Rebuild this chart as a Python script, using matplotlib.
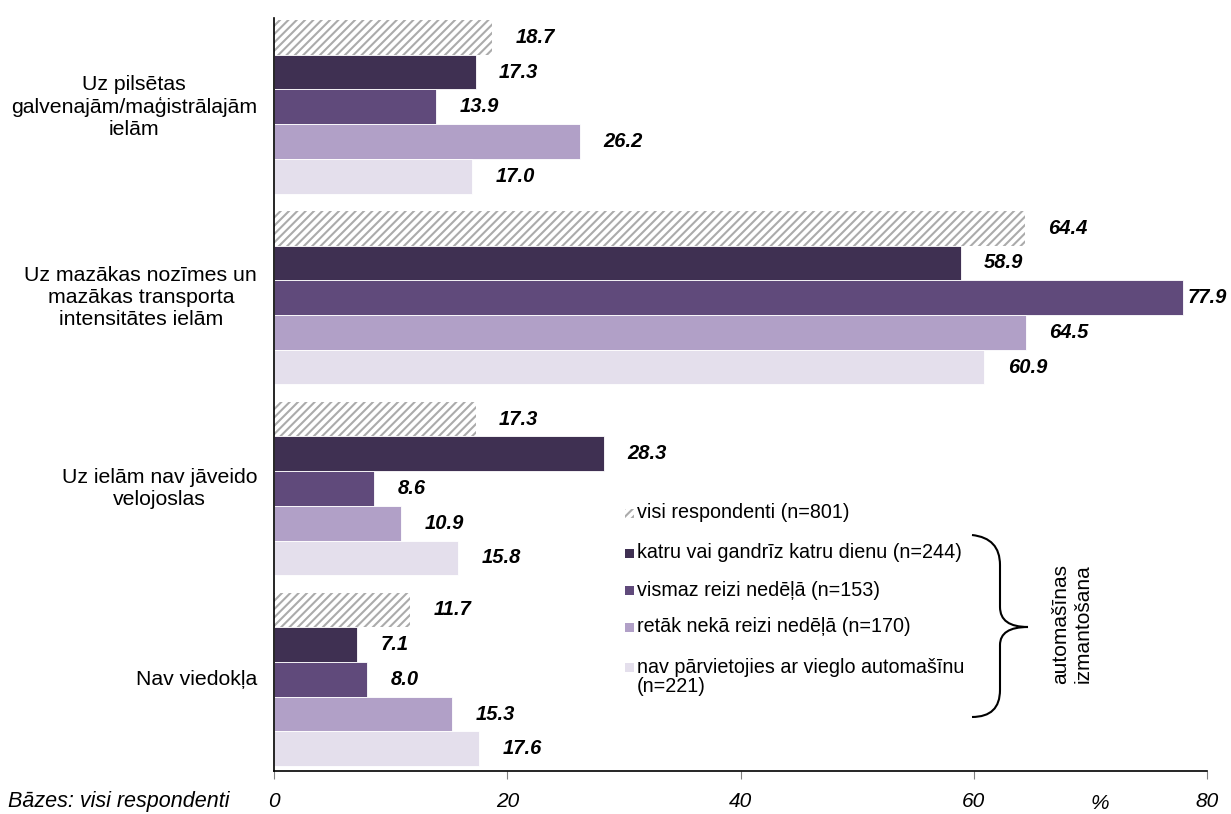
import matplotlib.pyplot as plt
from matplotlib.patches import Rectangle, PathPatch
from matplotlib.path import Path
from matplotlib.transforms import blended_transform_factory

plt.rcParams['font.family'] = ['Liberation Sans', 'DejaVu Sans']
plt.rcParams['hatch.linewidth'] = 1.5
plt.rcParams['hatch.color'] = '#ababab'

categories = [
    "Uz pilsētas\ngalvenajām/maģistrālajām\nielām",
    "Uz mazākas nozīmes un\nmazākas transporta\nintensitātes ielām",
    "Uz ielām nav jāveido\nvelojoslas",
    "Nav viedokļa",
]
series_names = [
    "visi respondenti (n=801)",
    "katru vai gandrīz katru dienu (n=244)",
    "vismaz reizi nedēļā (n=153)",
    "retāk nekā reizi nedēļā (n=170)",
    "nav pārvietojies ar vieglo automašīnu\n(n=221)",
]
visi = [18.7, 64.4, 17.3, 11.7]
katru_dienu = [17.3, 58.9, 28.3, 7.1]
reizi_nedela = [13.9, 77.9, 8.6, 8.0]
retak = [26.2, 64.5, 10.9, 15.3]
nav_parvietojies = [17.0, 60.9, 15.8, 17.6]
series = [visi, katru_dienu, reizi_nedela, retak, nav_parvietojies]
xticks = [0, 20, 40, 60, 80]

colors = ['white', '#3f3052', '#604a7b', '#b1a0c7', '#e4dfec']

fig = plt.figure(figsize=(12.31, 8.14), dpi=100)
ax = fig.add_axes([274 / 1231, 1 - 771 / 814, 933 / 1231, (771 - 18) / 814])

pitch = 5.5
for j, vals in enumerate(series):
    ys = [i * pitch + j for i in range(len(categories))]
    if j == 0:
        ax.barh(ys, vals, height=1.0, color='white', hatch='////',
                edgecolor='#ababab', linewidth=0)
    else:
        ax.barh(ys, vals, height=1.0, color=colors[j], edgecolor='white',
                linewidth=0.6)
    for y, v in zip(ys, vals):
        ax.text(min(v + 2.0, 78.3), y, f"{v:.1f}", va='center', ha='left',
                fontsize=14.5, fontweight='bold', fontstyle='italic')

ax.set_ylim(3 * pitch + 4 + 0.64, -0.56)
ax.set_xlim(0, 80)
ax.set_xticks(xticks)
ax.set_xticklabels([str(t) for t in xticks], fontstyle='italic', fontsize=15)
ax.tick_params(axis='x', direction='out', length=6, pad=9, color='#808080')
ax.set_yticks([])
for s in ['top', 'right']:
    ax.spines[s].set_visible(False)
ax.spines['left'].set_linewidth(1.2)
ax.spines['bottom'].set_linewidth(1.2)

tr = blended_transform_factory(ax.transAxes, ax.transData)
for i, cat in enumerate(categories):
    ax.text(-0.018, i * pitch + 2, cat, transform=tr, ha='right',
            va='center', fontsize=15.3, multialignment='center',
            linespacing=1.2)

ax.text(70.8, -0.0305, "%", transform=blended_transform_factory(ax.transData, ax.transAxes),
        ha='center', va='top', fontstyle='italic', fontsize=15)
fig.text(8 / 1231, 1 - 801 / 814, "Bāzes: visi respondenti", ha='left',
         va='center', fontstyle='italic', fontsize=15.5)

# custom legend
W, H = 1231, 814
leg_y = [513, 553, 590, 627, 667]
for j, (name, y) in enumerate(zip(series_names, leg_y)):
    if j == 0:
        rect = Rectangle((625 / W, 1 - (y + 4.5) / H), 9 / W, 9 / H,
                         transform=fig.transFigure, facecolor='white',
                         hatch='////', edgecolor='#ababab', linewidth=0)
    else:
        rect = Rectangle((625 / W, 1 - (y + 4.5) / H), 9 / W, 9 / H,
                         transform=fig.transFigure, facecolor=colors[j],
                         linewidth=0)
    fig.patches.append(rect)
    ty = y + 10 if '\n' in name else y
    fig.text(637 / W, 1 - ty / H, name, ha='left', va='center',
             fontsize=14.2, linespacing=1.0)

# brace
pts = [(972, 535), (1000, 538), (1000, 565),
       (1000, 607), (1000, 627), (1028, 627),
       (1000, 627), (1000, 645),
       (1000, 690), (1000, 717), (972, 717)]
codes = [Path.MOVETO, Path.CURVE3, Path.CURVE3,
         Path.LINETO, Path.CURVE3, Path.CURVE3,
         Path.CURVE3, Path.CURVE3,
         Path.LINETO, Path.CURVE3, Path.CURVE3]
verts = [(x / W, 1 - y / H) for x, y in pts]
fig.patches.append(PathPatch(Path(verts, codes), transform=fig.transFigure,
                             facecolor='none', edgecolor='black', linewidth=1.5))
fig.text(1072 / W, 1 - 624 / H, "automašīnas\nizmantošana", rotation=90,
         ha='center', va='center', fontsize=15, multialignment='center',
         linespacing=1.25)

fig.savefig('out.png', dpi=100)
